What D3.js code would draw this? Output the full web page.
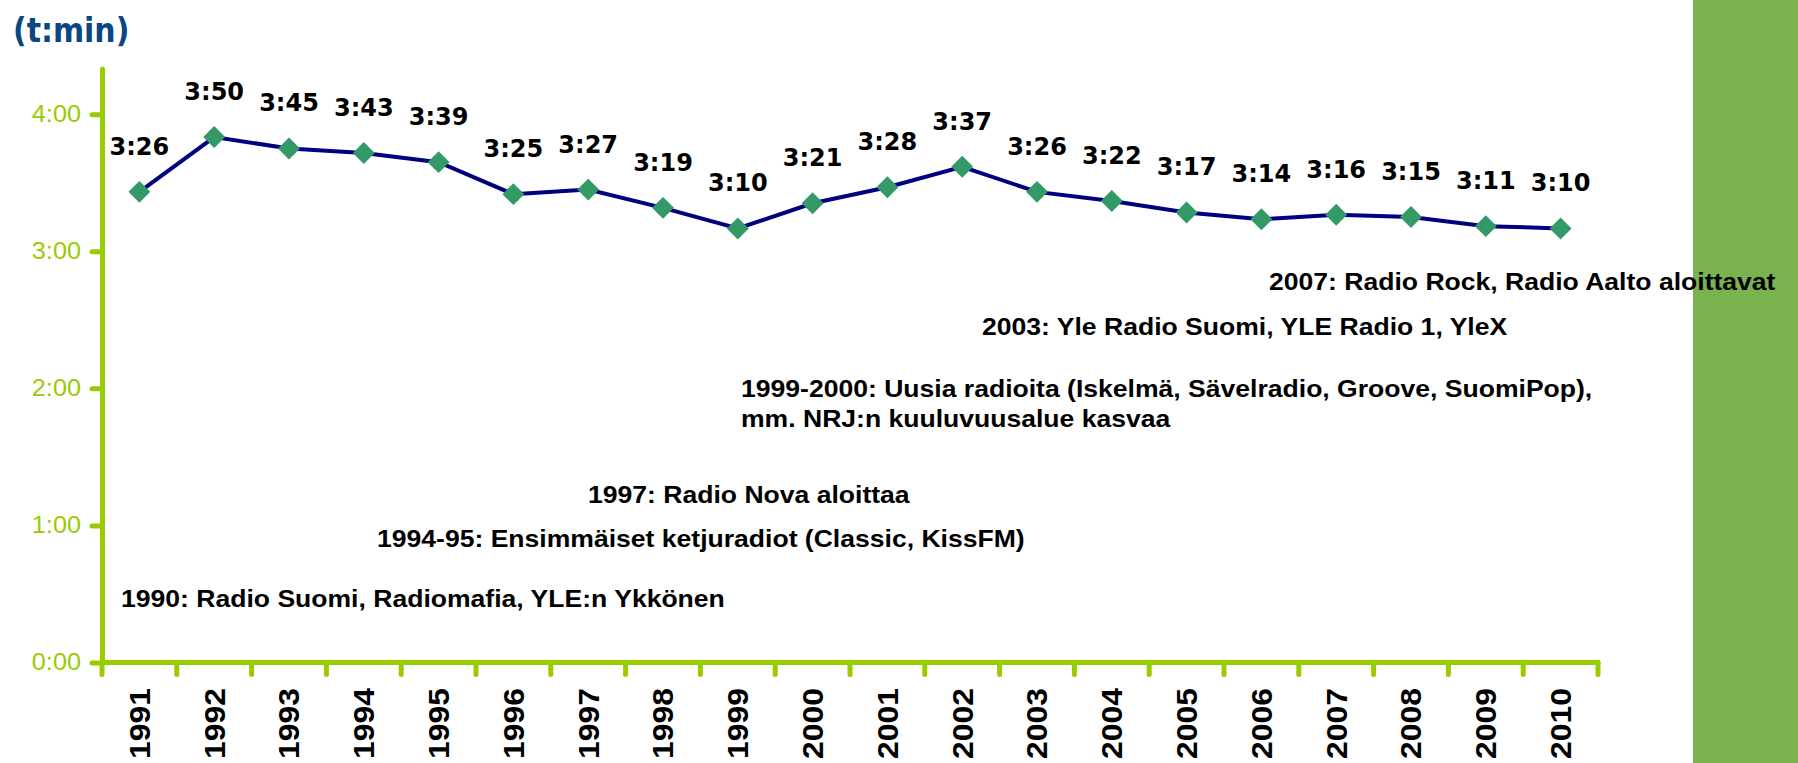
<!DOCTYPE html>
<html>
<head>
<meta charset="utf-8">
<script src="https://cdn.jsdelivr.net/npm/d3@7"></script>
<style>
  body { margin: 0; background: #fff; }
  svg { display: block; }
  .note { font-family: "Liberation Sans", Arial, sans-serif; font-weight: bold; font-size: 23px; fill: #000; }
</style>
</head>
<body>
<svg id="chart"></svg>
<script>
// years on the x axis
const years = ['1991','1992','1993','1994','1995','1996','1997','1998','1999','2000',
               '2001','2002','2003','2004','2005','2006','2007','2008','2009','2010'];
// daily listening time, minutes (3:26 -> 206)
const minutes = [206, 230, 225, 223, 219, 205, 207, 199, 190, 201,
                 208, 217, 206, 202, 197, 194, 196, 195, 191, 190];
// y axis ticks in minutes
const yTicks = [0, 60, 120, 180, 240];
// annotation texts (event lines)
const notes = [
  '2007: Radio Rock, Radio Aalto aloittavat',
  '2003: Yle Radio Suomi, YLE Radio 1, YleX',
  '1999-2000: Uusia radioita (Iskelmä, Sävelradio, Groove, SuomiPop),',
  'mm. NRJ:n kuuluvuusalue kasvaa',
  '1997: Radio Nova aloittaa',
  '1994-95: Ensimmäiset ketjuradiot (Classic, KissFM)',
  '1990: Radio Suomi, Radiomafia, YLE:n Ykkönen'
];
const notePos = [[1269, 290], [982, 335], [741, 397], [741, 427], [588, 503], [377, 547], [121, 607]];

const W = 1798, H = 763;
const axisColor = '#99cc00';
const stretch = 1.155;   // the source picture is wider than tall text would be
const fmt = m => Math.floor(m / 60) + ':' + String(m % 60).padStart(2, '0');

const svg = d3.select('#chart').attr('width', W).attr('height', H);

// green bar on the right side
svg.append('rect')
    .attr('x', 1693).attr('y', 0)
    .attr('width', W - 1693).attr('height', H)
    .attr('fill', '#7ab250');

// title
svg.append('text')
    .attr('transform', 'translate(13,42) scale(0.88,1)')
    .attr('font-family', '"DejaVu Sans", Verdana, sans-serif')
    .attr('font-weight', 'bold')
    .attr('font-size', 34)
    .attr('fill', '#0a4682')
    .text('(t:min)');

const x = d3.scaleBand()
    .domain(years)
    .range([102, 1598])
    .paddingInner(0).paddingOuter(0);

const y = d3.scaleLinear()
    .domain([0, 260])
    .range([662.5, 68.5]);

// y axis
const yAxis = svg.append('g')
    .attr('transform', 'translate(102,0)')
    .call(d3.axisLeft(y).tickValues(yTicks).tickFormat(fmt).tickSize(10).tickSizeOuter(0).tickPadding(11));
yAxis.select('.domain').attr('stroke', axisColor).attr('stroke-width', 5).attr('stroke-linecap', 'round');
yAxis.selectAll('.tick line').attr('stroke', axisColor).attr('stroke-width', 5).attr('stroke-linecap', 'round');
yAxis.selectAll('.tick text')
    .attr('x', -21 / 1.1)
    .attr('transform', 'scale(1.1,1)')
    .attr('fill', axisColor)
    .attr('font-family', '"Liberation Sans", Arial, sans-serif')
    .attr('font-size', 23);

// x axis line + boundary ticks
const xAxis = svg.append('g');
xAxis.append('line')
    .attr('x1', x.range()[0]).attr('x2', x.range()[1])
    .attr('y1', y(0)).attr('y2', y(0))
    .attr('stroke', axisColor).attr('stroke-width', 5).attr('stroke-linecap', 'round');
const bounds = years.map(d => x(d)).concat([x(years[years.length - 1]) + x.bandwidth()]);
xAxis.selectAll('line.tk')
    .data(bounds)
  .join('line')
    .attr('class', 'tk')
    .attr('x1', d => d).attr('x2', d => d)
    .attr('y1', y(0)).attr('y2', y(0) + 12)
    .attr('stroke', axisColor).attr('stroke-width', 5).attr('stroke-linecap', 'round');

// year labels, rotated
xAxis.selectAll('text.yr')
    .data(years)
  .join('text')
    .attr('class', 'yr')
    .attr('transform', d => `translate(${x(d) + x.bandwidth() / 2},688) rotate(-90) scale(1.1,1)`)
    .attr('text-anchor', 'end')
    .attr('dy', '0.36em')
    .attr('font-family', '"Liberation Sans", Arial, sans-serif')
    .attr('font-weight', 'bold')
    .attr('font-size', 29)
    .attr('fill', '#000')
    .text(d => d);

const cx = (d, i) => x(years[i]) + x.bandwidth() / 2;

// line
svg.append('path')
    .datum(minutes)
    .attr('fill', 'none')
    .attr('stroke', '#000080')
    .attr('stroke-width', 4)
    .attr('d', d3.line().x(cx).y(d => y(d)));

// diamond markers
svg.selectAll('path.pt')
    .data(minutes)
  .join('path')
    .attr('class', 'pt')
    .attr('d', d3.symbol(d3.symbolSquare, 240))
    .attr('transform', (d, i) => `translate(${cx(d, i)},${y(d)}) rotate(45)`)
    .attr('fill', '#339966');

// value labels
svg.selectAll('text.val')
    .data(minutes)
  .join('text')
    .attr('class', 'val')
    .attr('x', cx)
    .attr('y', d => y(d) - 37)
    .attr('text-anchor', 'middle')
    .attr('font-family', '"DejaVu Sans", Verdana, sans-serif')
    .attr('font-weight', 'bold')
    .attr('font-size', 24)
    .attr('fill', '#000')
    .text(d => fmt(d));

// annotations
svg.selectAll('text.note')
    .data(notes)
  .join('text')
    .attr('class', 'note')
    .attr('transform', (d, i) => `translate(${notePos[i][0]},${notePos[i][1]}) scale(${stretch},1)`)
    .text(d => d);
</script>
</body>
</html>
